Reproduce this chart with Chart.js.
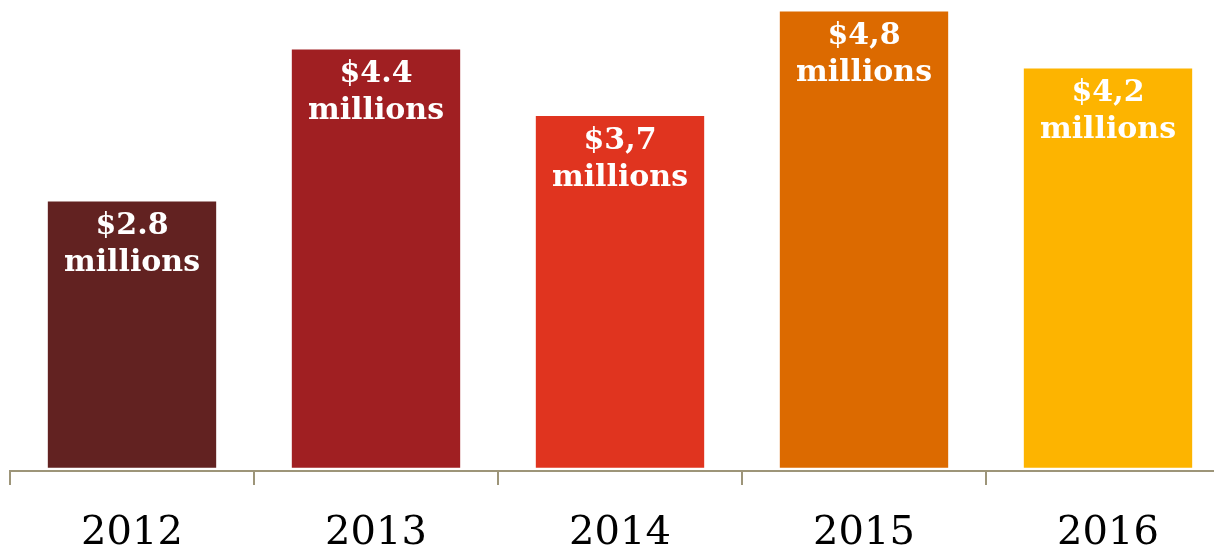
<!DOCTYPE html>
<html>
<head>
<meta charset="utf-8">
<script src="https://cdn.jsdelivr.net/npm/chart.js@4/dist/chart.umd.min.js"></script>
<style>
  html, body { margin: 0; padding: 0; background: #fff; overflow: hidden; }
  #wrap { width: 1232px; height: 553px; }
</style>
</head>
<body>
<div id="wrap"><canvas id="salesChart"></canvas></div>
<script>
const years = ["2012", "2013", "2014", "2015", "2016"];
const sales = [2.8, 4.4, 3.7, 4.8, 4.2];
const amountLabels = ["$2.8", "$4.4", "$3,7", "$4,8", "$4,2"];
const unitLabel = "millions";
const barColors = ["#622221", "#a01f22", "#e0341f", "#dc6a00", "#fdb400"];

// writes the amount + "millions" inside the top of each bar
const barText = {
    id: "barText",
    afterDatasetsDraw(chart) {
        const ctx = chart.ctx;
        const meta = chart.getDatasetMeta(0);
        ctx.save();
        ctx.fillStyle = "#ffffff";
        ctx.textAlign = "center";
        ctx.textBaseline = "middle";
        ctx.font = "bold 30px 'DejaVu Serif', serif";
        meta.data.forEach((bar, i) => {
            ctx.fillText(amountLabels[i], bar.x, bar.y + 25);
            ctx.fillText(unitLabel, bar.x, bar.y + 62);
        });
        ctx.restore();
    }
};

new Chart(document.getElementById("salesChart"), {
    type: "bar",
    data: {
        labels: years,
        datasets: [{
            data: sales,
            backgroundColor: barColors,
            borderWidth: 0,
            categoryPercentage: 1,
            barPercentage: 0.69
        }]
    },
    options: {
        responsive: true,
        maintainAspectRatio: false,
        animation: false,
        layout: { padding: { left: 10, right: 2, top: 0, bottom: 0 } },
        plugins: { legend: { display: false }, tooltip: { enabled: false } },
        scales: {
            x: {
                afterFit(scale) { scale.height = 82; },
                grid: {
                    offset: true,
                    drawOnChartArea: false,
                    drawTicks: true,
                    tickLength: 14,
                    color: "#9d9579",
                    lineWidth: 2
                },
                border: { display: true, color: "#9d9579", width: 2 },
                ticks: {
                    color: "#000000",
                    padding: 25,
                    maxRotation: 0,
                    font: { family: "'DejaVu Serif', serif", size: 40 }
                }
            },
            y: {
                display: false,
                min: -0.035,
                max: 4.92
            }
        }
    },
    plugins: [barText]
});
</script>
</body>
</html>
